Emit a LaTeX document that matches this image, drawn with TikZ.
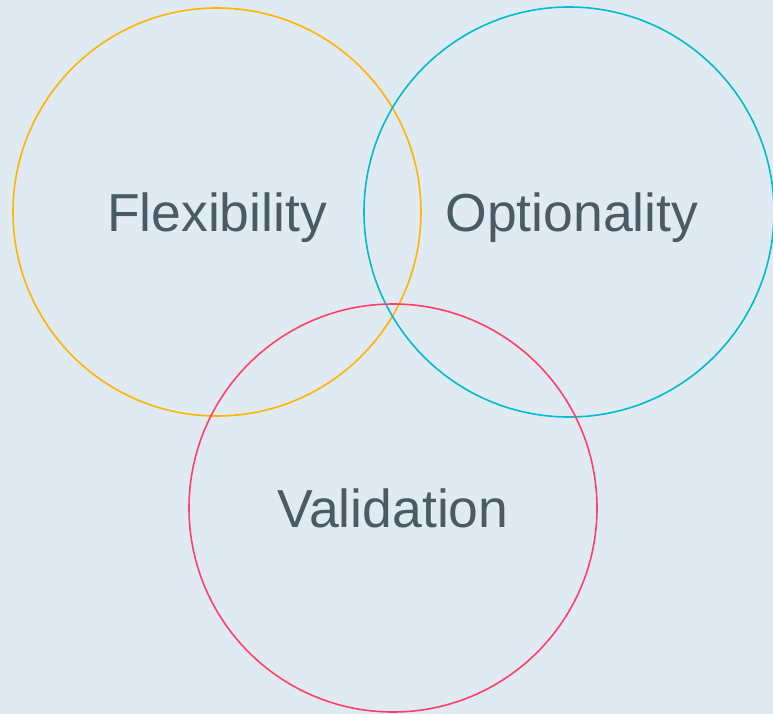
\documentclass[tikz,border=0pt]{standalone}
\usepackage{fontspec}
\setmainfont{Liberation Sans}
\definecolor{bgblue}{HTML}{E0EAF2}
\definecolor{textgray}{HTML}{4A5B66}
\definecolor{flexyellow}{HTML}{FFB400}
\definecolor{optcyan}{HTML}{00BCCF}
\definecolor{validred}{HTML}{FF4068}
\begin{document}
\begin{tikzpicture}[x=1pt,y=-1pt]
    \fill[bgblue] (0,0) rectangle (773,714);
    \useasboundingbox (0,0) rectangle (773,714);

    \draw[color=flexyellow, line width=1.6pt]  (217,212) circle (204);
    \draw[color=optcyan, line width=1.6pt]     (569,212) circle (205);
    \draw[color=validred, line width=1.6pt]    (393,508) circle (204);

    \node[anchor=base, color=textgray, font=\fontsize{53.5}{60}\selectfont] (flex)  at (217,231) {Flexibility};
    \node[anchor=base, color=textgray, font=\fontsize{53.5}{60}\selectfont] (opt)   at (572,231) {Optionality};
    \node[anchor=base, color=textgray, font=\fontsize{53.5}{60}\selectfont] (valid) at (393,527) {Validation};
  \end{tikzpicture}
\end{document}
